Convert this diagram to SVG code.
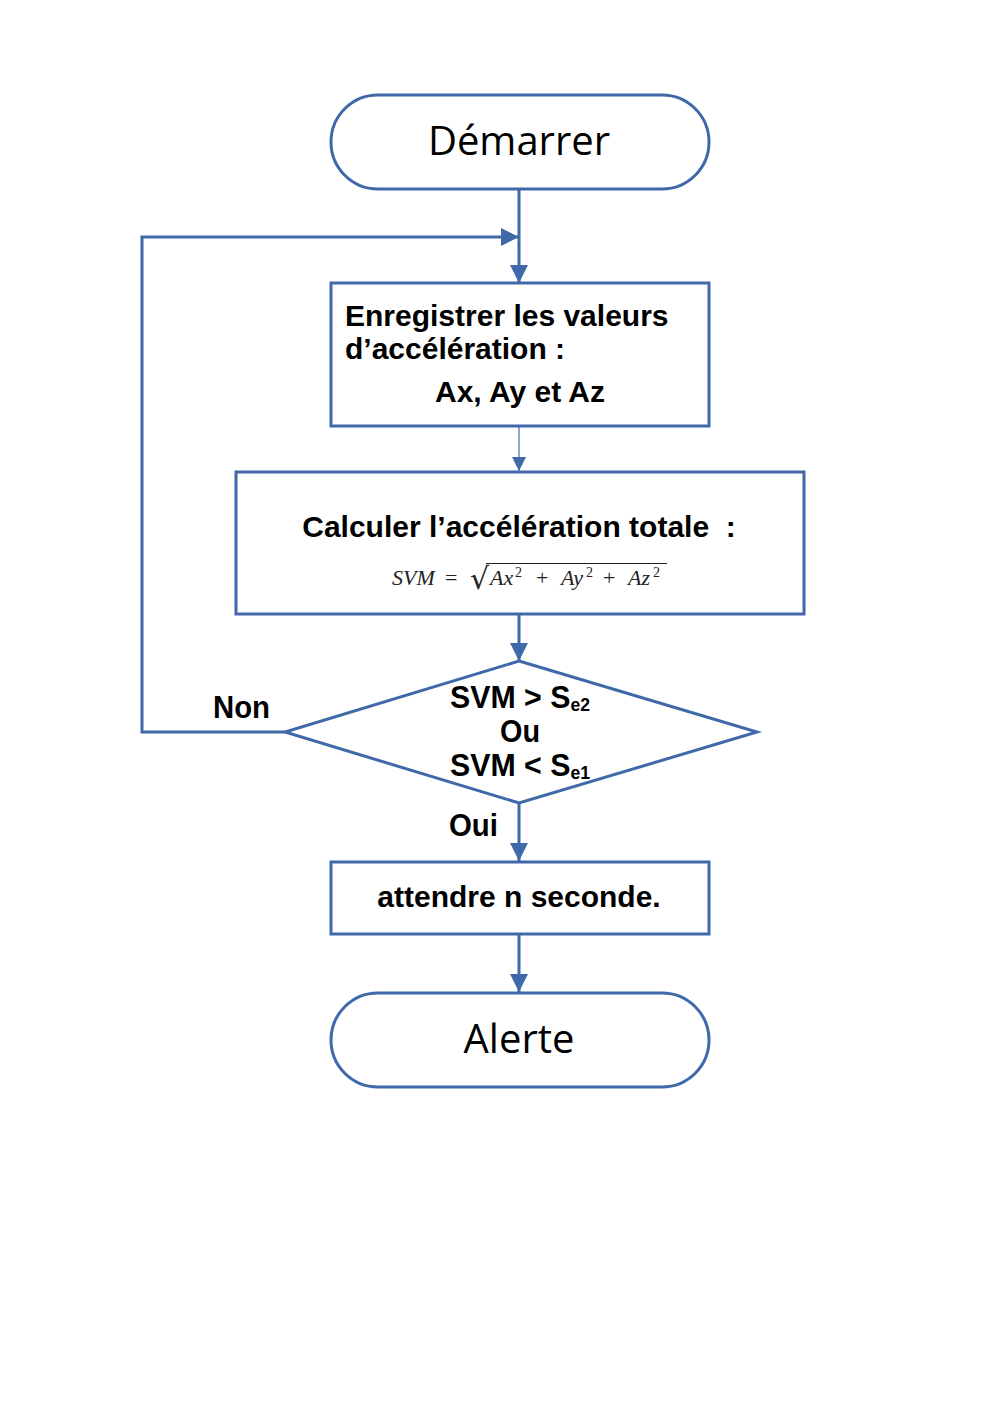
<svg xmlns="http://www.w3.org/2000/svg" width="992" height="1403" viewBox="0 0 992 1403">
<defs>
<marker id="ahb" viewBox="0 0 10 10" refX="10" refY="5" markerWidth="18" markerHeight="18" markerUnits="userSpaceOnUse" orient="auto"><path d="M0,0 L10,5 L0,10 z" fill="#3F69A8"/></marker>
<marker id="ahs" viewBox="0 0 10 10" refX="10" refY="5" markerWidth="14" markerHeight="14" markerUnits="userSpaceOnUse" orient="auto"><path d="M0,0 L10,5 L0,10 z" fill="#3F69A8"/></marker>
<style>
.shape{fill:#fff;stroke:#3F69A8;stroke-width:3}
.conn{fill:none;stroke:#3F69A8;stroke-width:3}
.thin{fill:none;stroke:#3F69A8;stroke-width:1.2}
.term{font-family:"Open Sans","Noto Sans",sans-serif;font-size:40px;fill:#000;text-anchor:middle}
.bt{font-family:"Liberation Sans",Arial,sans-serif;font-weight:bold;font-size:30px;fill:#000}
.nar{font-family:"Liberation Sans",Arial,sans-serif;font-weight:bold;font-size:31px;fill:#000}
.math{font-family:"Liberation Serif","DejaVu Serif",serif;font-style:italic;font-size:22px;fill:#222}
.mr{font-family:"Liberation Serif","DejaVu Serif",serif;font-size:22px;fill:#222}
.sup{font-family:"Liberation Serif","DejaVu Serif",serif;font-size:14px;fill:#222}
</style>
</defs>
<rect width="992" height="1403" fill="#fff"/>
<g id="connectors">
<line class="conn" x1="519" y1="189" x2="519" y2="283" marker-end="url(#ahb)"/>
<polyline class="conn" points="285,732 142,732 142,237 519,237" marker-end="url(#ahb)"/>
<line class="thin" x1="519" y1="426" x2="519" y2="471" marker-end="url(#ahs)"/>
<line class="conn" x1="519" y1="614" x2="519" y2="661" marker-end="url(#ahb)"/>
<line class="conn" x1="519" y1="803" x2="519" y2="861" marker-end="url(#ahb)"/>
<line class="conn" x1="519" y1="934" x2="519" y2="992" marker-end="url(#ahb)"/>
<text class="nar" x="213" y="718" textLength="57" lengthAdjust="spacingAndGlyphs">Non</text>
<text class="nar" x="449" y="836" textLength="49" lengthAdjust="spacingAndGlyphs">Oui</text>
</g>
<g id="start">
<rect class="shape" x="331" y="95" width="378" height="94" rx="47" ry="47"/>
<text class="term" x="519" y="155">Démarrer</text>
</g>
<g id="record">
<rect class="shape" x="331" y="283" width="378" height="143"/>
<text class="bt" x="345" y="326">Enregistrer les valeurs</text>
<text class="bt" x="345" y="359">d’accélération :</text>
<text class="bt" x="520" y="402" text-anchor="middle">Ax, Ay et Az</text>
</g>
<g id="compute">
<rect class="shape" x="236" y="472" width="568" height="142"/>
<text class="bt" x="519" y="537" text-anchor="middle" xml:space="preserve">Calculer l’accélération totale  :</text>
<text class="math" x="392" y="585">SVM</text>
<text class="mr" x="445" y="585">=</text>
<text x="470" y="589" font-family="DejaVu Sans,sans-serif" font-size="30" fill="#222">√</text>
<line x1="486" y1="563.5" x2="667" y2="563.5" stroke="#222" stroke-width="1.2"/>
<text class="math" x="490" y="585">Ax</text><text class="sup" x="515" y="577">2</text>
<text class="mr" x="536" y="585">+</text>
<text class="math" x="561" y="585">Ay</text><text class="sup" x="586" y="577">2</text>
<text class="mr" x="603" y="585">+</text>
<text class="math" x="628" y="585">Az</text><text class="sup" x="653" y="577">2</text>
</g>
<g id="decision">
<polygon class="shape" points="519,661 757,732 519,803 285,732"/>
<text class="nar" x="450" y="708" textLength="140" lengthAdjust="spacingAndGlyphs">SVM &gt; S<tspan font-size="18" dy="3">e2</tspan></text>
<text class="nar" x="500" y="742" textLength="40" lengthAdjust="spacingAndGlyphs">Ou</text>
<text class="nar" x="450" y="776" textLength="140" lengthAdjust="spacingAndGlyphs">SVM &lt; S<tspan font-size="18" dy="3">e1</tspan></text>
</g>
<g id="wait">
<rect class="shape" x="331" y="862" width="378" height="72"/>
<text class="bt" x="519" y="907" text-anchor="middle">attendre n seconde.</text>
</g>
<g id="alert">
<rect class="shape" x="331" y="993" width="378" height="94" rx="47" ry="47"/>
<text class="term" x="519" y="1053">Alerte</text>
</g>
</svg>
